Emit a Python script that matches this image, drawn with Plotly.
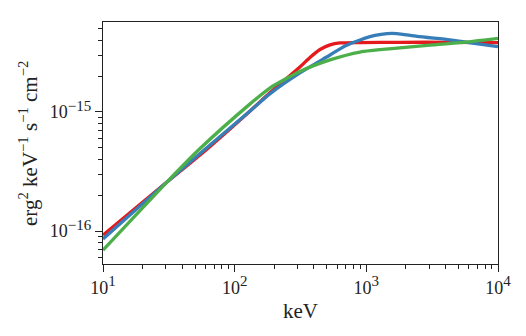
import plotly.graph_objects as go

# Energies (keV) and spectra
red_x = [10, 30.6, 54.6, 131, 185, 313, 373, 445, 530, 631, 895, 1800, 4320, 10000]
red_y = [9.25e-17, 2.58e-16, 4.35e-16, 1.02e-15, 1.45e-15, 2.39e-15, 2.87e-15,
         3.35e-15, 3.66e-15, 3.80e-15, 3.83e-15, 3.85e-15, 3.85e-15, 3.82e-15]

blue_x = [10, 30.6, 54.6, 131, 185, 313, 530, 689, 895, 1164, 1435, 1710, 2430, 4320, 5820, 10000]
blue_y = [8.57e-17, 2.58e-16, 4.48e-16, 1.02e-15, 1.42e-15, 2.13e-15, 3.01e-15, 3.59e-15,
          4.03e-15, 4.40e-15, 4.56e-15, 4.56e-15, 4.31e-15, 4.03e-15, 3.84e-15, 3.54e-15]

green_x = [10, 30.6, 54.6, 131, 185, 313, 530, 895, 1800, 3210, 5140, 10000]
green_y = [6.92e-17, 2.58e-16, 4.93e-16, 1.17e-15, 1.59e-15, 2.19e-15, 2.74e-15,
           3.19e-15, 3.45e-15, 3.66e-15, 3.82e-15, 4.16e-15]

SUP = "<sup><span style='font-size:15px'>{}</span></sup>"
x_major = [10, 100, 1000, 10000]
x_major_text = ["10" + SUP.format(e) for e in ("1", "2", "3", "4")]
x_minor = [m * 10 ** e for e in (1, 2, 3) for m in range(2, 10)]
y_major = [1e-16, 1e-15]
y_major_text = ["10" + SUP.format(e) for e in ("−16", "−15")]
y_minor = [m * 1e-17 for m in range(5, 10)] + [m * 1e-16 for m in range(2, 10)] + [m * 1e-15 for m in range(2, 6)]
y_title = "erg<sup>2</sup> keV<sup>−1</sup> s<sup>−1</sup> cm<sup>−2</sup>"

x_range = [1, 4]
y_range = [-16.277, -14.244]

FONT = "Liberation Serif"
INK = "#222222"

fig = go.Figure()
for xs, ys, col in [(red_x, red_y, "#e41a1c"), (blue_x, blue_y, "#377eb8"), (green_x, green_y, "#4daf4a")]:
    fig.add_trace(go.Scatter(x=xs, y=ys, mode="lines",
                             line=dict(color=col, width=3.3, shape="spline", smoothing=0.6),
                             showlegend=False, hoverinfo="skip"))

# empty trace to carry the minor-tick axes
fig.add_trace(go.Scatter(x=[], y=[], xaxis="x2", yaxis="y2", showlegend=False))

fig.update_layout(
    width=526, height=336,
    margin=dict(l=103, r=28, t=22, b=72),
    paper_bgcolor="white", plot_bgcolor="white",
    font=dict(family=FONT, size=18, color=INK),
    xaxis=dict(type="log", range=x_range, tickvals=x_major, ticktext=x_major_text,
               ticks="outside", ticklen=7, tickwidth=1.2, tickcolor=INK,
               showline=True, linecolor=INK, linewidth=1.3, mirror=True,
               showgrid=False, zeroline=False,
               title=dict(text="keV", font=dict(size=21, family=FONT), standoff=6)),
    yaxis=dict(type="log", range=y_range, tickvals=y_major, ticktext=y_major_text,
               ticks="outside", ticklen=7, tickwidth=1.2, tickcolor=INK,
               showline=True, linecolor=INK, linewidth=1.3, mirror=True,
               showgrid=False, zeroline=False),
    xaxis2=dict(type="log", range=x_range, overlaying="x", anchor="y2", side="bottom",
                tickvals=x_minor, ticks="outside", ticklen=4, tickwidth=1, tickcolor=INK,
                showticklabels=False, showline=False, showgrid=False, zeroline=False),
    yaxis2=dict(type="log", range=y_range, overlaying="y", anchor="x2", side="left",
                tickvals=y_minor, ticks="outside", ticklen=4, tickwidth=1, tickcolor=INK,
                showticklabels=False, showline=False, showgrid=False, zeroline=False),
    annotations=[dict(text=y_title, textangle=-90, xref="paper", yref="paper",
                      x=-0.19, y=0.5, xanchor="center", yanchor="middle", showarrow=False,
                      font=dict(size=21, family=FONT, color=INK))],
)

fig.write_html("out.html")
